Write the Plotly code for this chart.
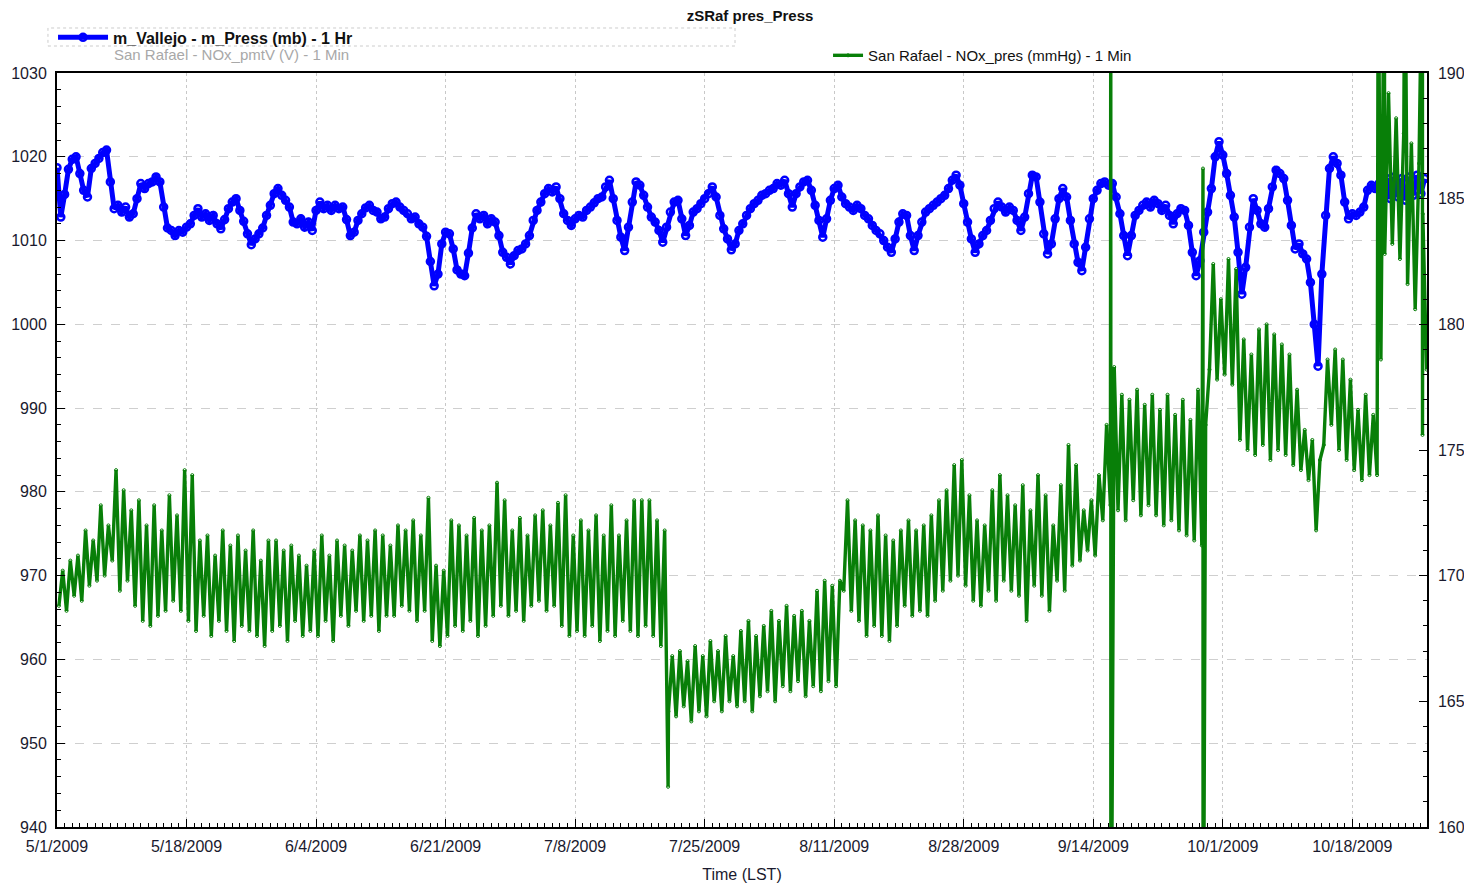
import pandas as pd
import plotly.graph_objects as go

# Vallejo hourly pressure (mb), every half day from 5/1/2009
blue_mb = [
    1018.7, 1012.8, 1015.5, 1018.5, 1019.7, 1020.0, 1018.0, 1016.0, 1015.2, 1018.6,
    1019.2, 1019.8, 1020.5, 1020.8, 1017.0, 1013.8, 1014.2, 1013.4, 1014.0, 1012.8,
    1013.2, 1015.0, 1016.8, 1016.2, 1016.8, 1017.0, 1017.6, 1017.0, 1014.0, 1011.5,
    1011.2, 1010.6, 1011.2, 1011.0, 1011.6, 1012.0, 1013.0, 1013.8, 1012.8, 1013.2,
    1012.4, 1013.0, 1012.0, 1011.4, 1012.5, 1013.8, 1014.6, 1015.0, 1013.6, 1012.3,
    1010.8, 1009.5, 1010.2, 1010.8, 1011.5, 1013.0, 1014.2, 1015.6, 1016.2, 1015.4,
    1014.8, 1014.0, 1012.2, 1012.0, 1012.6, 1011.6, 1012.2, 1011.2, 1013.6, 1014.6,
    1013.8, 1014.2, 1013.6, 1014.2, 1013.8, 1014.0, 1012.5, 1010.6, 1011.0, 1012.4,
    1013.2, 1013.9, 1014.2, 1013.6, 1013.4, 1012.6, 1012.8, 1013.8, 1014.4, 1014.6,
    1014.0, 1013.6, 1013.2, 1012.6, 1012.8, 1012.0, 1011.6, 1010.5, 1007.5, 1004.6,
    1006.0, 1009.6, 1011.0, 1010.8, 1009.0, 1006.5, 1006.0, 1005.8, 1008.5, 1011.5,
    1013.2, 1012.6, 1013.0, 1012.0, 1012.6, 1012.2, 1010.6, 1008.6, 1008.0, 1007.2,
    1008.2, 1008.8, 1009.0, 1009.6, 1010.6, 1012.4, 1013.6, 1014.6, 1015.6, 1016.2,
    1015.8, 1016.4, 1015.0, 1013.2, 1012.4, 1011.8, 1012.6, 1013.0, 1012.8, 1013.6,
    1014.0, 1014.5, 1015.0, 1015.2, 1016.4, 1017.2, 1015.0, 1012.4, 1010.4, 1008.8,
    1011.6, 1014.6, 1017.0, 1016.6, 1015.4, 1014.0, 1012.8, 1012.2, 1011.2, 1009.8,
    1011.6, 1013.4, 1014.6, 1014.8, 1012.6, 1010.6, 1011.8, 1013.4, 1013.8, 1014.4,
    1015.0, 1015.6, 1016.4, 1015.2, 1013.0, 1011.4, 1010.2, 1008.9, 1009.6, 1011.2,
    1012.0, 1013.0, 1013.8, 1014.4, 1014.8, 1015.4, 1015.6, 1016.0, 1016.2, 1016.8,
    1016.6, 1017.2, 1015.6, 1014.0, 1015.6, 1016.4, 1017.0, 1017.2, 1016.0, 1014.2,
    1012.4, 1010.4, 1012.6, 1014.8, 1016.2, 1016.6, 1015.2, 1014.4, 1014.0, 1013.6,
    1014.2, 1013.8, 1013.0, 1012.6, 1011.8, 1011.2, 1010.8, 1010.0, 1009.2, 1008.6,
    1010.2, 1012.2, 1013.2, 1013.0, 1010.6, 1008.8, 1010.6, 1012.2, 1013.4, 1013.8,
    1014.2, 1014.6, 1015.0, 1015.4, 1016.2, 1017.2, 1017.8, 1016.6, 1014.4, 1012.2,
    1010.2, 1008.6, 1009.6, 1010.6, 1011.2, 1012.4, 1013.8, 1014.6, 1014.0, 1013.4,
    1014.0, 1013.6, 1012.4, 1011.2, 1012.8, 1015.6, 1017.8, 1017.6, 1014.6, 1010.8,
    1008.4, 1009.6, 1012.6, 1015.0, 1016.2, 1015.2, 1012.4, 1009.6, 1007.4, 1006.4,
    1009.2, 1012.6, 1015.0, 1016.0, 1016.8, 1017.0, 1016.6, 1016.8, 1015.2, 1013.2,
    1010.6, 1008.2, 1010.6, 1013.0, 1013.6, 1014.2, 1014.6, 1014.0, 1014.8, 1014.4,
    1013.6, 1014.2, 1013.0, 1012.0, 1013.2, 1013.8, 1013.6, 1011.8, 1008.6, 1005.8,
    1007.6, 1011.0, 1013.4, 1016.2, 1020.0, 1021.8, 1020.2, 1018.0, 1015.4, 1012.8,
    1008.6, 1003.6, 1006.8, 1011.6, 1015.0, 1013.6, 1012.0, 1011.6, 1013.8, 1016.4,
    1018.4, 1018.0, 1017.4, 1014.8, 1011.8, 1009.0, 1009.6, 1008.4, 1007.8, 1005.0,
    1000.0, 995.0, 1006.0, 1013.0, 1018.6, 1020.0, 1019.2, 1017.8, 1014.6, 1012.6,
    1013.2, 1013.0, 1013.4, 1014.0, 1016.0, 1016.6, 1016.2, 1016.8, 1015.4, 1017.4,
    1015.0, 1017.6, 1015.2, 1017.4, 1014.8, 1017.6, 1015.4, 1017.8, 1015.6, 1017.4,
]

# San Rafael NOx_pres (mmHg): one morning and one afternoon reading per day
green_am = [
    168.8, 168.6, 169.2, 169.0, 169.6, 169.8, 170.0, 170.6, 169.4, 169.8,
    168.8, 168.2, 168.0, 168.4, 168.6, 169.0, 168.6, 168.2, 167.8, 168.4,
    167.6, 168.2, 167.8, 167.4, 168.0, 167.8, 167.6, 167.2, 167.8, 168.0,
    167.4, 168.2, 167.6, 167.8, 167.6, 168.2, 167.4, 168.4, 168.0, 168.6,
    168.2, 168.4, 167.8, 168.4, 168.4, 168.8, 168.6, 168.2, 168.6, 167.4,
    167.2, 167.6, 168.0, 167.8, 168.2, 167.6, 168.0, 168.4, 168.8, 168.4,
    168.6, 168.2, 168.8, 169.0, 168.6, 168.8, 168.0, 167.6, 167.8, 167.6,
    168.0, 167.4, 167.8, 167.6, 168.2, 167.8, 167.6, 168.0, 167.6, 167.2,
    164.6, 164.4, 164.8, 164.2, 164.6, 164.4, 165.0, 164.6, 165.0, 164.8,
    165.0, 164.6, 165.2, 165.4, 165.0, 165.6, 165.4, 165.8, 165.2, 165.6,
    165.4, 165.8, 165.6, 169.4, 168.6, 168.2, 167.6, 168.0, 167.6, 167.4,
    168.0, 168.8, 168.4, 168.6, 168.4, 169.0, 169.4, 169.8, 170.0, 169.6,
    169.0, 168.8, 169.4, 169.0, 169.8, 169.4, 169.2, 168.2, 169.6, 169.2,
    168.6, 169.8, 169.4, 170.4, 170.6, 171.0, 170.8, 172.2, 172.8, 172.6,
    172.2, 173.0, 172.4, 172.8, 172.4, 172.0, 172.2, 171.8, 171.6, 171.4,
    171.2, 178.2, 177.8, 178.0, 177.6, 175.4, 175.0, 174.8, 175.2, 174.6,
    175.0, 174.8, 174.4, 174.2, 173.8, 171.8, 175.2, 176.0, 175.0, 174.6,
    174.2, 173.8, 174.0, 174.0, 182.8, 183.2, 182.6, 181.6, 180.6, 184.4,
]
green_pm = [
    170.2, 170.6, 170.8, 171.8, 171.4, 172.8, 172.0, 174.2, 173.4, 172.6,
    173.0, 172.0, 172.8, 171.8, 173.2, 172.4, 174.2, 174.0, 171.4, 171.6,
    170.8, 171.8, 171.2, 171.6, 171.0, 171.8, 170.6, 171.4, 171.4, 171.0,
    171.2, 170.8, 170.4, 171.0, 171.6, 170.8, 171.4, 171.2, 171.0, 171.6,
    171.4, 171.8, 171.6, 171.2, 172.0, 171.8, 172.2, 171.6, 173.1, 170.4,
    170.2, 172.2, 172.0, 171.6, 172.3, 171.8, 172.0, 173.7, 173.0, 171.8,
    172.3, 171.6, 172.4, 172.6, 172.0, 172.9, 173.2, 171.6, 172.2, 171.8,
    172.4, 171.6, 172.8, 171.6, 172.2, 173.0, 173.0, 173.0, 172.2, 171.8,
    166.8, 167.0, 166.6, 167.2, 166.8, 167.4, 167.0, 167.6, 166.8, 167.8,
    168.2, 167.6, 168.0, 168.6, 168.2, 168.8, 168.4, 168.6, 168.2, 169.4,
    169.8, 169.6, 169.8, 173.0, 172.2, 172.0, 171.8, 172.4, 171.6, 171.4,
    171.8, 172.2, 171.8, 172.0, 172.4, 173.0, 173.4, 174.4, 174.6, 173.2,
    172.2, 172.0, 173.4, 174.0, 173.2, 172.8, 173.6, 172.6, 174.0, 173.2,
    172.0, 173.6, 175.2, 174.4, 172.6, 173.0, 174.0, 176.0, 178.3, 177.2,
    177.0, 177.4, 176.8, 177.2, 176.6, 177.2, 176.4, 177.0, 176.2, 177.4,
    176.0, 182.4, 181.0, 182.6, 182.2, 179.4, 178.8, 179.8, 180.0, 179.6,
    179.2, 178.8, 177.4, 175.8, 175.4, 174.6, 178.6, 179.0, 178.6, 177.8,
    176.6, 177.2, 176.4, 178.6, 189.2, 188.2, 187.6, 187.2, 186.4, 178.2,
]

# instrument glitches (day offset from 5/1, value in mmHg)
spike_day = [80.2, 138.30, 138.31, 150.40, 150.41, 173.40, 174.20, 176.90, 179.20, 179.21]
spike_val = [161.6, 196.0, 150.0, 186.2, 150.0, 196.0, 196.0, 196.0, 196.0, 175.6]

start = pd.Timestamp("2009-05-01")

blue_t = [start + pd.Timedelta(days=0.5 * i) for i in range(len(blue_mb))]

g_day, g_val = [], []
for i, (am, pm) in enumerate(zip(green_am, green_pm)):
    g_day += [i + 0.25, i + 0.75]
    g_val += [am, pm]
g_day += spike_day
g_val += spike_val
green = pd.DataFrame({"day": g_day, "val": g_val}).sort_values("day")
green["t"] = start + pd.to_timedelta(green["day"], unit="D")

FONT = "Liberation Sans, Arial, sans-serif"
GREEN = "#087f08"

fig = go.Figure()

fig.add_trace(go.Scatter(
    x=blue_t, y=blue_mb,
    mode="lines+markers",
    name="<b>m_Vallejo - m_Press (mb) - 1 Hr</b>",
    line=dict(color="#0000ff", width=5),
    marker=dict(symbol="circle-open", size=7, color="#0000ff", line=dict(width=2.5)),
    legend="legend",
))
fig.add_trace(go.Scatter(
    x=green["t"], y=green["val"],
    mode="lines+markers",
    name="San Rafael - NOx_pres (mmHg) - 1 Min",
    line=dict(color=GREEN, width=3.4),
    marker=dict(symbol="circle-open", size=3, color=GREEN, line=dict(width=1)),
    yaxis="y2",
    legend="legend2",
))

# the page adds an 8 px body margin, so the figure is 16 px smaller than the window
fig.update_layout(
    width=1460, height=875,
    margin=dict(l=49, r=41, t=65, b=56, autoexpand=False),
    paper_bgcolor="white", plot_bgcolor="white",
    font=dict(family=FONT, size=16, color="#1a1a2e"),
    title=dict(text="<b>zSRaf pres_Press</b>", x=742 / 1460, xanchor="center",
               y=1 - 8 / 875, yanchor="middle", font=dict(size=15, color="#111")),
    showlegend=True,
    legend=dict(x=-0.0029, y=1.0697, xanchor="left", yanchor="top",
                bgcolor="rgba(0,0,0,0)", font=dict(size=16, color="#111"),
                tracegroupgap=0, itemwidth=50),
    legend2=dict(x=0.5628, y=1.045, xanchor="left", yanchor="top",
                 bgcolor="rgba(0,0,0,0)", font=dict(size=15, color="#111")),
    xaxis=dict(
        range=[start, start + pd.Timedelta(days=179.8)],
        tickmode="linear", tick0=start, dtick=17 * 86400000,
        tickformat="%-m/%-d/%Y",
        ticks="inside", ticklen=8, tickcolor="black",
        showline=True, linecolor="black", linewidth=1.5, mirror=True,
        showgrid=True, gridcolor="#c8c8c8", griddash="dot",
        minor=dict(tickmode="linear", tick0=start, dtick=86400000,
                   ticks="inside", ticklen=4, tickcolor="black", showgrid=False),
        title=dict(text="Time (LST)", standoff=26, font=dict(size=16)),
        ticklabelstandoff=4,
        automargin=False,
    ),
    yaxis=dict(
        range=[940, 1030], dtick=10,
        ticks="inside", ticklen=8, tickcolor="black",
        showline=True, linecolor="black", linewidth=2,
        showgrid=True, gridcolor="#cfcfcf", griddash="dash", zeroline=False,
        minor=dict(dtick=2, ticks="inside", ticklen=4, tickcolor="black", showgrid=False),
        ticklabelstandoff=5,
        automargin=False,
    ),
    yaxis2=dict(
        range=[160, 190], dtick=5, overlaying="y", side="right",
        ticks="inside", ticklen=8, tickcolor="black",
        showline=True, linecolor="black", linewidth=1.5,
        showgrid=False, zeroline=False,
        minor=dict(dtick=1, ticks="inside", ticklen=4, tickcolor="black"),
        ticklabelstandoff=6,
        automargin=False,
    ),
)

# dotted frame around the first legend row
fig.add_shape(type="rect", xref="paper", yref="paper",
              x0=-0.0066, x1=0.4949, y0=1.0358, y1=1.0597,
              line=dict(color="#cccccc", width=1, dash="dot"))

# hidden (greyed) series entry of the legend
fig.add_annotation(text="San Rafael - NOx_pmtV (V) - 1 Min", xref="paper", yref="paper",
                   x=0.0401, y=1.0239, xanchor="left", yanchor="middle", showarrow=False,
                   font=dict(size=15, color="#a8a8a8"))

fig.write_html("out.html")
